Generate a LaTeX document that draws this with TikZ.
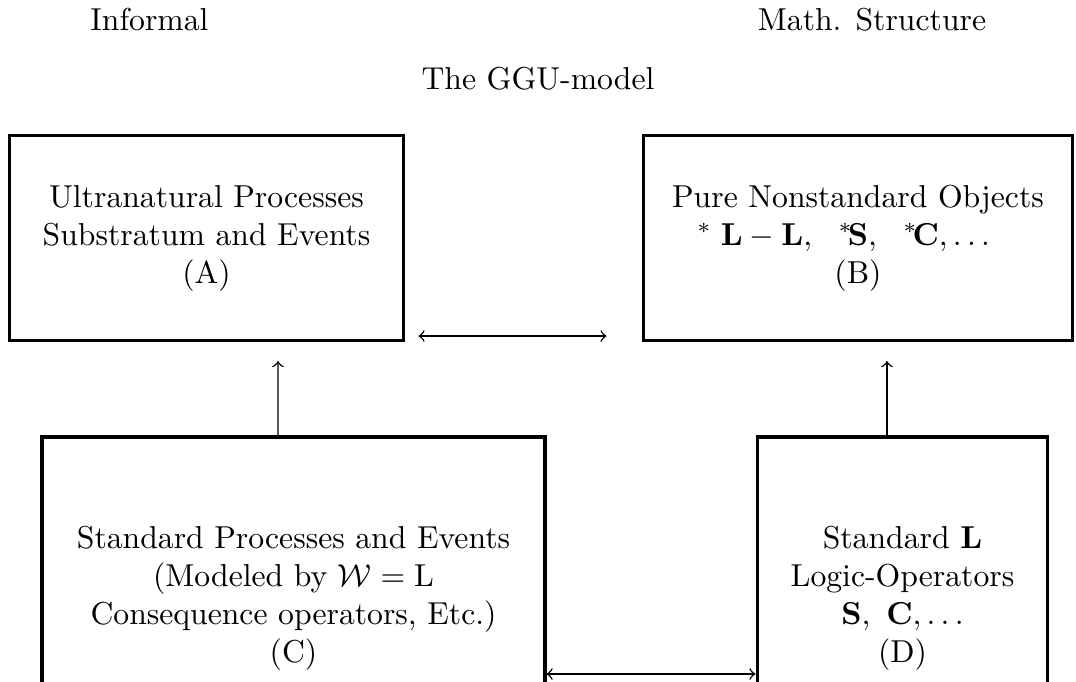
\documentclass[tikz,border=0pt]{standalone}
\usepackage{amsmath}
\begin{document}
\begin{tikzpicture}[x=0.3155pt,y=-0.3155pt,
  boxnode/.style={draw,line width=0.95pt,align=center,inner sep=0pt},
  lbl/.style={inner sep=0pt,anchor=base},
  conn/.style={<->,line width=0.45pt},
  upconn/.style={->,line width=0.45pt}]
\clip (0,0) rectangle (1076,681);
\useasboundingbox (0,0) rectangle (1076,681);
\node[lbl] (inf) at (149.5,30) {Informal};
\node[lbl] (math) at (872,30) {Math. Structure};
\node[lbl] (ggu) at (538,89) {The GGU-model};
\node[boxnode,minimum width=124.6pt,minimum height=64.7pt] (A) at (206.5,238)
  {Ultranatural Processes\\ Substratum and Events\\ (A)};
\node[boxnode,minimum width=135.6pt,minimum height=64.7pt] (B) at (858,238)
  {Pure Nonstandard Objects\\ $^*\;\mathbf{L}-\mathbf{L},\ \ {}^*\!\mathbf{S},\ \ {}^*\!\mathbf{C},\ldots$\rule{9pt}{0pt}\\ (B)};
\node[boxnode,minimum width=158.7pt,minimum height=101.6pt] (C) at (293.5,598)
  {Standard Processes and Events\\ (Modeled by $\mathcal{W}=\mathrm{L}$\\ Consequence operators, Etc.)\\ (C)};
\node[boxnode,minimum width=91.8pt,minimum height=101.6pt] (D) at (902.5,598)
  {Standard $\mathbf{L}$\\ Logic-Operators\\ $\mathbf{S},\ \mathbf{C},\ldots$\\ (D)};
\draw[conn] ([shift={(13,-6)}]A.south east) -- ([shift={(-35,-6)}]B.south west);
\draw[upconn] ([xshift=-15.5*0.3155pt]C.north) -- ([shift={(71.5,19)}]A.south);
\draw[upconn] ([xshift=-15.5*0.3155pt]D.north) -- ([shift={(29,19)}]B.south);
\draw[conn] ([yshift=-76*0.3155pt]C.east) -- ([yshift=-76*0.3155pt]D.west);
\end{tikzpicture}
\end{document}
